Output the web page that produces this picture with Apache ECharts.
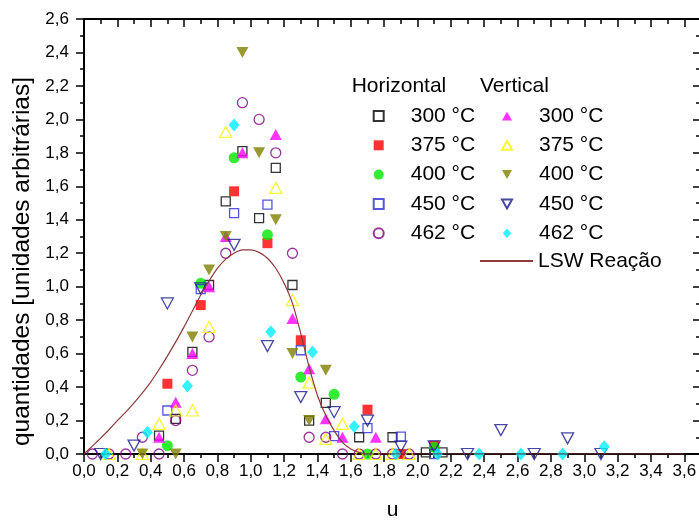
<!DOCTYPE html>
<html>
<head>
<meta charset="utf-8">
<script src="https://cdn.jsdelivr.net/npm/echarts@6/dist/echarts.min.js"></script>
<style>
  html, body { margin: 0; padding: 0; background: #fff; }
  #chart { width: 699px; height: 523px; }
</style>
</head>
<body>
<div id="chart"></div>
<script>
// [u, quantidade]
const h300 = [[0.45, 0.11], [0.55, 0.21], [0.65, 0.61], [0.75, 1.01], [0.85, 1.51], [0.95, 1.81], [1.05, 1.41], [1.15, 1.71], [1.25, 1.01], [1.35, 0.20], [1.45, 0.305], [1.65, 0.10], [1.85, 0.10], [2.05, 0.01], [2.15, 0.01]]
const h375 = [[0.5, 0.42], [0.7, 0.89], [0.9, 1.57], [1.1, 1.26], [1.3, 0.68], [1.7, 0.265], [1.9, 0.0], [2.1, 0.05]]
const h400 = [[0.5, 0.05], [0.7, 1.02], [0.9, 1.77], [1.1, 1.31], [1.3, 0.46], [1.5, 0.357], [1.7, 0.0], [2.1, 0.04]]
const h450 = [[0.5, 0.26], [0.7, 0.985], [0.9, 1.44], [1.1, 1.49], [1.3, 0.62], [1.5, 0.107], [1.7, 0.155], [1.9, 0.104], [2.1, 0.0]]
const h462 = [[0.05, 0], [0.15, 0], [0.25, 0], [0.35, 0.10], [0.45, 0], [0.55, 0.20], [0.65, 0.50], [0.75, 0.70], [0.85, 1.20], [0.95, 2.10], [1.05, 2.00], [1.15, 1.80], [1.25, 1.20], [1.35, 0.10], [1.45, 0.10], [1.55, 0], [1.65, 0], [1.75, 0], [1.85, 0], [1.95, 0]]

const v300 = [[0.45, 0.10], [0.55, 0.31], [0.65, 0.60], [0.75, 1.00], [0.85, 1.30], [0.95, 1.80], [1.15, 1.91], [1.25, 0.81], [1.35, 0.51], [1.45, 0.21], [1.55, 0.10], [1.75, 0.10]]
const v375 = [[0.15, 0], [0.35, 0], [0.45, 0.18], [0.55, 0.26], [0.65, 0.26], [0.75, 0.76], [0.85, 1.925], [1.15, 1.59], [1.25, 0.92], [1.35, 0.426], [1.45, 0.09], [1.55, 0.18], [1.65, 0], [1.75, 0], [1.85, 0], [1.95, 0]]
const v400 = [[0.35, 0], [0.55, 0], [0.65, 0.70], [0.75, 1.10], [0.85, 1.30], [0.95, 2.40], [1.05, 1.80], [1.15, 1.40], [1.25, 0.60], [1.35, 0.20], [1.45, 0.50]]
const v450 = [[0.1, 0], [0.3, 0.05], [0.5, 0.90], [0.7, 0.99], [0.9, 1.25], [1.1, 0.645], [1.3, 0.34], [1.5, 0.25], [1.7, 0.20], [1.9, 0.044], [2.1, 0.045], [2.3, 0], [2.5, 0.143], [2.7, 0], [2.9, 0.094], [3.1, 0]]
const v462 = [[0.13, 0], [0.38, 0.13], [0.62, 0.406], [0.9, 1.966], [1.12, 0.73], [1.37, 0.61], [1.62, 0.165], [1.87, 0], [2.12, 0], [2.37, 0], [2.62, 0], [2.87, 0], [3.12, 0.044]]

// LSW curve
const lswU = [0, 0.05, 0.1, 0.15, 0.2, 0.25, 0.3, 0.35, 0.4, 0.45, 0.5, 0.55, 0.6, 0.65, 0.7, 0.75, 0.8, 0.85, 0.9, 0.95, 1.0, 1.05, 1.1, 1.15, 1.2, 1.25, 1.3, 1.35, 1.4, 1.45, 1.5, 1.55, 1.6, 1.65, 1.7, 3.6]
const lswV = [0, 0.047, 0.095, 0.145, 0.20, 0.25, 0.305, 0.365, 0.43, 0.505, 0.585, 0.67, 0.76, 0.855, 0.95, 1.035, 1.11, 1.165, 1.20, 1.22, 1.22, 1.205, 1.17, 1.11, 1.02, 0.90, 0.72, 0.52, 0.35, 0.23, 0.14, 0.07, 0.03, 0.01, 0, 0]

const labels = {
  H300: '300 °C', H375: '375 °C', H400: '400 °C', H450: '450 °C', H462: '462 °C',
  V300: '300 °C', V375: '375 °C', V400: '400 °C', V450: '450 °C', V462: '462 °C',
  LSW: 'LSW Reação'
}

const FONT = '"Liberation Sans", Arial, sans-serif'
const SQUARE = 'path://M0,0L10,0L10,10L0,10Z'
const TRI_UP = 'path://M5,0L10,9L0,9Z'
const TRI_DOWN = 'path://M0,0L10,0L5,9Z'
const DIAMOND = 'path://M5,0L10,6L5,12L0,6Z'

function fmt(v) {
  const r = Math.round(v * 10) / 10
  if (Math.abs(Math.round(r * 5) - r * 5) > 1e-6) return ''
  return r.toFixed(1).replace('.', ',')
}

function hollow(name, data, symbol, size, color) {
  return {
    name: name, type: 'scatter', data: data, symbol: symbol, symbolSize: size,
    itemStyle: { color: 'rgba(255,255,255,0)', borderColor: color, borderWidth: 1.3 }
  }
}
function filled(name, data, symbol, size, color) {
  return {
    name: name, type: 'scatter', data: data, symbol: symbol, symbolSize: size,
    itemStyle: { color: color, borderWidth: 0 }
  }
}

const chart = echarts.init(document.getElementById('chart'), null, { renderer: 'canvas' })

const legendBase = {
  orient: 'vertical',
  top: 105,
  itemWidth: 10,
  itemHeight: 10,
  itemGap: 7.3,
  padding: 0,
  selectedMode: false,
  formatter: function(name) { return labels[name] },
  textStyle: { fontSize: 21, lineHeight: 22, color: '#000', fontFamily: FONT, padding: [0, 0, 0, 22] }
}

const option = {
  animation: false,
  backgroundColor: '#fff',
  textStyle: { fontFamily: FONT },
  grid: { left: 84, right: -2, top: 19, bottom: 69, containLabel: false, outerBoundsMode: 'none' },
  xAxis: [
    {
      type: 'value', position: 'bottom', min: 0, max: 3.7, interval: 0.2,
      name: 'u', nameLocation: 'middle', nameGap: 46,
      nameTextStyle: { fontSize: 21, color: '#000', fontFamily: FONT },
      axisLine: { show: true, onZero: false, lineStyle: { color: '#000', width: 2 } },
      axisTick: { show: true, inside: false, length: 8, lineStyle: { color: '#000', width: 1.5 } },
      minorTick: { show: true, splitNumber: 2, length: 4, lineStyle: { color: '#000', width: 1.5 } },
      splitLine: { show: false },
      axisLabel: { show: true, fontSize: 17, color: '#000', margin: 9, fontFamily: FONT, showMaxLabel: false, formatter: fmt }
    },
    {
      type: 'value', position: 'top', min: 0, max: 3.7, interval: 0.2,
      axisLine: { show: true, onZero: false, lineStyle: { color: '#000', width: 2 } },
      axisTick: { show: true, inside: true, length: 8, lineStyle: { color: '#000', width: 1.5 } },
      minorTick: { show: true, splitNumber: 2, length: 5, lineStyle: { color: '#000', width: 1.5 } },
      splitLine: { show: false },
      axisLabel: { show: false }
    }
  ],
  yAxis: [
    {
      type: 'value', position: 'left', min: 0, max: 2.6, interval: 0.2,
      name: 'quantidades [unidades arbitrárias]', nameLocation: 'middle', nameRotate: 90, nameGap: 47,
      nameTextStyle: { fontSize: 24.5, color: '#000', fontFamily: FONT, padding: [0, 50, 0, 0] },
      axisLine: { show: true, onZero: false, lineStyle: { color: '#000', width: 2 } },
      axisTick: { show: true, inside: false, length: 8, lineStyle: { color: '#000', width: 1.5 } },
      minorTick: { show: true, splitNumber: 2, length: 4, lineStyle: { color: '#000', width: 1.5 } },
      splitLine: { show: false },
      axisLabel: { show: true, fontSize: 17, color: '#000', margin: 15, fontFamily: FONT, formatter: fmt }
    },
    {
      type: 'value', position: 'right', min: 0, max: 2.6, interval: 0.2,
      axisLine: { show: true, onZero: false, lineStyle: { color: '#000', width: 2 } },
      axisTick: { show: true, inside: true, length: 8, lineStyle: { color: '#000', width: 1.5 } },
      minorTick: { show: true, splitNumber: 2, length: 5, lineStyle: { color: '#000', width: 1.5 } },
      splitLine: { show: false },
      axisLabel: { show: false }
    }
  ],
  legend: [
    Object.assign({}, legendBase, { left: 372.7, data: ['H300', 'H375', 'H400', 'H450', 'H462'] }),
    Object.assign({}, legendBase, { left: 501, data: ['V300', 'V375', 'V400', 'V450', 'V462'] }),
    Object.assign({}, legendBase, {
      left: 479, top: 250, itemWidth: 53,
      textStyle: { fontSize: 21, lineHeight: 22, color: '#000', fontFamily: FONT, padding: [0, 0, 0, 0] },
      data: [{ name: 'LSW', itemStyle: { opacity: 0 } }]
    })
  ],
  graphic: [
    { type: 'text', x: 351.7, y: 86, style: { text: 'Horizontal', fontSize: 21, fontFamily: FONT, fill: '#000', verticalAlign: 'middle' } },
    { type: 'text', x: 480, y: 86, style: { text: 'Vertical', fontSize: 21, fontFamily: FONT, fill: '#000', verticalAlign: 'middle' } }
  ],
  series: [
    {
      name: 'LSW', type: 'line', symbol: 'none', showSymbol: false, smooth: 0.3,
      data: lswU.map(function(u, i) { return [u, lswV[i]] }),
      lineStyle: { color: '#8c3a3a', width: 1.2 },
      itemStyle: { color: '#8c3a3a' }
    },
    hollow('H300', h300, SQUARE, 9, '#000000'),
    filled('H375', h375, SQUARE, 10, '#ff0000'),
    filled('H400', h400, 'circle', 11, '#00e800'),
    hollow('H450', h450, SQUARE, 9, '#2a2ad4'),
    hollow('H462', h462, 'circle', 10, '#800080'),
    filled('V300', v300, TRI_UP, [12, 11], '#ff00ff'),
    hollow('V375', v375, TRI_UP, [12, 11], '#f5f500'),
    filled('V400', v400, TRI_DOWN, [12, 11], '#808000'),
    hollow('V450', v450, TRI_DOWN, [12, 11], '#1a1a8c'),
    filled('V462', v462, DIAMOND, [11, 13], '#00f0ff')
  ]
}

chart.setOption(option)
window.onresize = function() { chart.resize() }
</script>
</body>
</html>
